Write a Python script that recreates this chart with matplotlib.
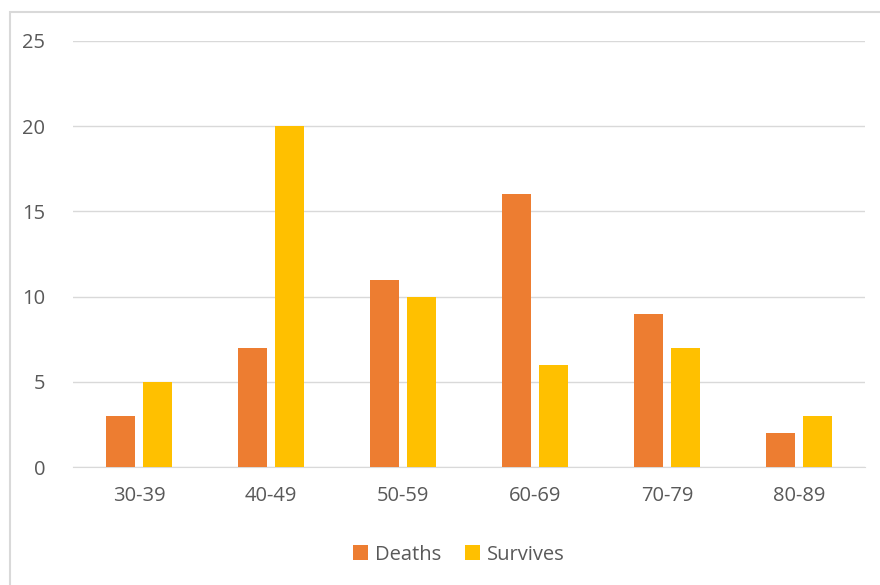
import matplotlib
matplotlib.use("Agg")
import matplotlib.pyplot as plt
import numpy as np
from matplotlib.patches import Rectangle

age_groups = ["30-39", "40-49", "50-59", "60-69", "70-79", "80-89"]
deaths = [3, 7, 11, 16, 9, 2]
survives = [5, 20, 10, 6, 7, 3]
y_ticks = [0, 5, 10, 15, 20, 25]

plt.rcParams["font.family"] = ["Open Sans", "DejaVu Sans"]
text_color = "#595959"

fig = plt.figure(figsize=(8.8, 5.85), dpi=100)
ax = fig.add_axes([0.083, 0.2017, 0.9, 0.7283])

x = np.arange(len(age_groups))
ax.bar(x - 0.142, deaths, width=0.22, color="#ED7D31", label="Deaths", zorder=3)
ax.bar(x + 0.142, survives, width=0.22, color="#FFC000", label="Survives", zorder=3)

ax.set_xlim(-0.5, len(age_groups) - 0.5)
ax.set_ylim(0, 25)
ax.set_yticks(y_ticks)
ax.set_xticks(x)
ax.set_xticklabels(age_groups)
ax.grid(axis="y", color="#D9D9D9", linewidth=1, zorder=0)
for side in ["top", "right", "left"]:
    ax.spines[side].set_visible(False)
ax.spines["bottom"].set_color("#D9D9D9")
ax.tick_params(axis="both", length=0, labelsize=14.5, labelcolor=text_color)
ax.tick_params(axis="x", pad=14)
ax.tick_params(axis="y", pad=20)

ax.legend(loc="upper center", bbox_to_anchor=(0.487, -0.14), ncol=2, frameon=False,
          fontsize=14.5, labelcolor=text_color, handlelength=0.75, handleheight=0.75,
          handletextpad=0.35, columnspacing=1.2)

# chart border (cut off at right and bottom)
fig.patches.append(Rectangle((10 / 880, -0.1), 1.2, 1 - 12 / 585 + 0.1,
                             transform=fig.transFigure, fill=False,
                             edgecolor="#D9D9D9", linewidth=1.5))

fig.savefig("out.png", dpi=100)
